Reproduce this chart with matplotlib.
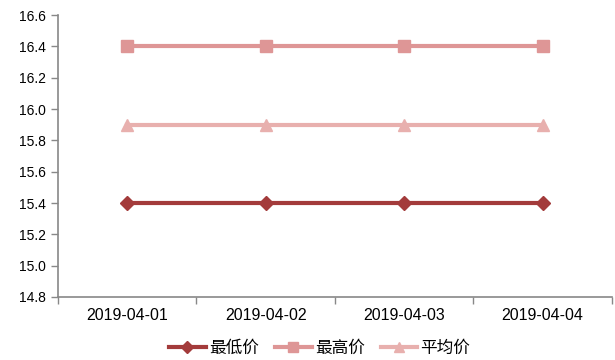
import matplotlib
matplotlib.use("Agg")
import matplotlib.pyplot as plt
from matplotlib.ticker import FixedLocator, NullFormatter

plt.rcParams['font.family'] = ['Noto Sans CJK SC', 'DejaVu Sans']

dates = ["2019-04-01", "2019-04-02", "2019-04-03", "2019-04-04"]
low_price = [15.4, 15.4, 15.4, 15.4]
high_price = [16.4, 16.4, 16.4, 16.4]
avg_price = [15.9, 15.9, 15.9, 15.9]
y_ticks = [14.8, 15.0, 15.2, 15.4, 15.6, 15.8, 16.0, 16.2, 16.4, 16.6]

fig = plt.figure(figsize=(6.15, 3.6), dpi=100)
ax = fig.add_axes([0.0943, 0.175, 0.9007, 0.783])

x = list(range(len(dates)))
ax.plot(x, low_price, color="#A33B3B", lw=3, marker="D", ms=7, label="最低价")
ax.plot(x, high_price, color="#DE9696", lw=3, marker="s", ms=9, label="最高价")
ax.plot(x, avg_price, color="#E8B0AE", lw=3, marker="^", ms=9, label="平均价")

ax.set_xlim(-0.5, len(dates) - 0.5)
ax.set_ylim(14.8, 16.6)
ax.set_yticks(y_ticks)
ax.set_yticklabels([f"{v:.1f}" for v in y_ticks], fontsize=10, family="Liberation Sans")

ax.set_xticks(x)
ax.set_xticklabels(dates, fontsize=11.5, family="Liberation Sans")
ax.tick_params(axis="x", which="major", length=0, pad=8)
ax.xaxis.set_minor_locator(FixedLocator([i - 0.5 for i in range(len(dates) + 1)]))
ax.xaxis.set_minor_formatter(NullFormatter())
ax.tick_params(axis="x", which="minor", length=5, color="#888888", width=1)
ax.tick_params(axis="y", length=5, color="#888888", width=1)

for side in ("top", "right"):
    ax.spines[side].set_visible(False)
for side in ("left", "bottom"):
    ax.spines[side].set_color("#888888")
    ax.spines[side].set_linewidth(1.2)

leg = fig.legend(*ax.get_legend_handles_labels(), loc="center", bbox_to_anchor=(0.52, 0.033),
                 ncol=3, frameon=False, fontsize=12, handlelength=2.2,
                 columnspacing=0.95, handletextpad=0.2, markerscale=0.85)

fig.savefig("out.png", dpi=100)
